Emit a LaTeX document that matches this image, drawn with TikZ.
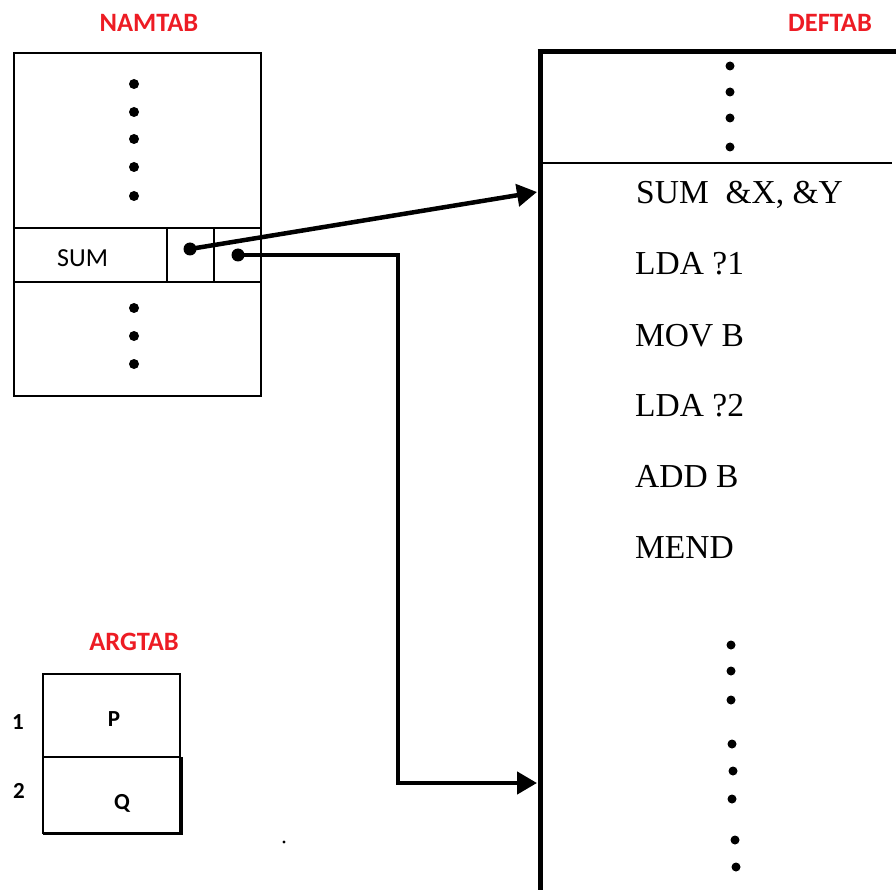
\documentclass[tikz,border=0pt]{standalone}
\usepackage{fontspec}
\setmainfont{Liberation Serif}
\newfontfamily\calfont{Carlito}
\usetikzlibrary{arrows.meta}
\definecolor{labred}{RGB}{237,28,36}
\begin{document}
\begin{tikzpicture}[x=1pt,y=-1pt,
  title/.style={font=\calfont\bfseries\fontsize{26.5}{26.5}\selectfont, text=labred, anchor=base, inner sep=0pt},
  code/.style={font=\fontsize{33.5}{33.5}\selectfont, anchor=base west, inner sep=0pt},
  small/.style={font=\calfont\fontsize{26}{26}\selectfont, anchor=base west, inner sep=0pt},
  argtxt/.style={font=\calfont\bfseries\fontsize{23}{23}\selectfont, anchor=base, inner sep=0pt},
  vdot/.style={circle, fill=black, inner sep=0pt, minimum size=10pt},
  ptr/.style={circle, fill=black, inner sep=0pt, minimum size=13pt},
  link/.style={line width=4.5pt, line join=miter, -{Triangle[length=20pt,width=22pt]}},
  tab/.style={line width=2.8pt}
]
\useasboundingbox (0,0) rectangle (896,890);

% ---------- NAMTAB ----------
\node[title] (namtab) at (149,32) {NAMTAB};
\draw[tab] (14,53) rectangle (261,396);
\draw[tab] (14,228) -- (261,228);
\draw[tab] (14,282) -- (261,282);
\draw[tab] (167,228) -- (167,282);
\draw[tab] (214,228) -- (214,282);
\node[small] (sumname) at (57,267) {SUM};
\foreach \yy/\nm in {84/a,112/b,139/c,167/d,196/e}
  \node[vdot] (nt\nm) at (134,\yy) {};
\foreach \yy/\nm in {308/f,336/g,364/h}
  \node[vdot] (nt\nm) at (134,\yy) {};
\node[ptr] (p1) at (190,249) {};
\node[ptr] (p2) at (238,255) {};

% ---------- DEFTAB ----------
\node[title] (deftab) at (830,32) {DEFTAB};
\draw[line width=5pt] (537.5,52) -- (896,52);
\draw[line width=5pt] (540,50) -- (540,890);
\draw[line width=2.5pt] (540,163) -- (892,163);
\foreach \yy/\nm in {66/a,92/b,118/c,147/d}
  \node[vdot, minimum size=9pt] (dt\nm) at (730,\yy) {};
\node[code] (l1) at (636,204) {SUM\ \ \&X, \&Y};
\node[code] (l2) at (635,275) {LDA ?1};
\node[code] (l3) at (635,346) {MOV B};
\node[code] (l4) at (635,416) {LDA ?2};
\node[code] (l5) at (635,487) {ADD B};
\node[code] (l6) at (635,558) {MEND};
\foreach \xx/\yy/\nm in {731/645/a,731/671/b,731/700/c,732/744/d,733/771/e,732/799/f,735/840/g,736/867/h}
  \node[vdot, minimum size=9pt] (db\nm) at (\xx,\yy) {};

% ---------- connectors ----------
\coordinate (t1) at (537,192);
\coordinate (t2) at (537,783);
\coordinate (bend) at (398,255);
\draw[link] (p1.center) -- (t1);
\draw[link] (p2.center) -- (bend) |- (t2);

% ---------- ARGTAB ----------
\node[title] (argtab) at (134,650) {ARGTAB};
\draw[line width=1.5pt] (43,674) rectangle (180,833);
\draw[line width=1.5pt] (43,757) -- (180,757);
\draw[line width=3pt] (43,833) -- (181,833) -- (181,757);
\node[argtxt] (argp) at (114,726) {P};
\node[argtxt] (argq) at (122,809) {Q};
\node[argtxt] (arg1) at (18,729) {1};
\node[argtxt] (arg2) at (19,798) {2};
\fill (284,842) circle (1.6pt);
\end{tikzpicture}
\end{document}
